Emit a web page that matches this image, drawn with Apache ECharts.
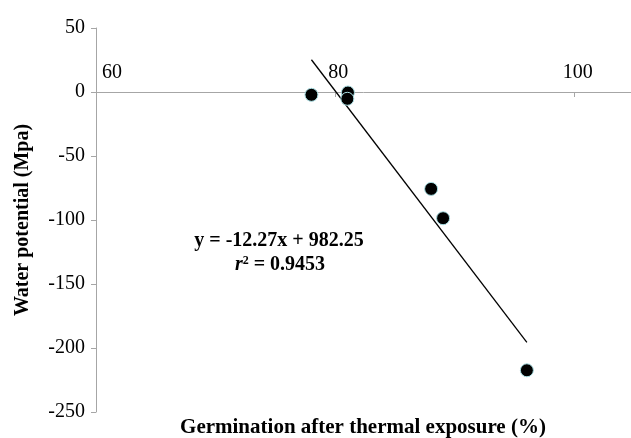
<!DOCTYPE html>
<html>
<head>
<meta charset="utf-8">
<script src="https://cdn.jsdelivr.net/npm/echarts/dist/echarts.min.js"></script>
<style>
html,body{margin:0;padding:0;background:#fff;}
#chart{width:631px;height:438px;}
</style>
</head>
<body>
<div id="chart"></div>
<script>
// Data
var germination = [78.0, 81.05, 81.0, 88.0, 89.0, 96.0];
var waterPotential = [-2.2, -0.4, -5.3, -75.7, -98.6, -217.4];
var trendSlope = -12.27;
var trendIntercept = 982.25;
var equationText = 'y = -12.27x + 982.25';
var r2Text = '0.9453';
var xTicks = [60, 80, 100];
var yTicks = [-250, -200, -150, -100, -50, 0, 50];
var xTitle = 'Germination after thermal exposure (%)';
var yTitle = 'Water potential (Mpa)';

var points = germination.map(function (x, i) { return [x, waterPotential[i]]; });
var xMinData = Math.min.apply(null, germination);
var xMaxData = Math.max.apply(null, germination);
var trend = [xMinData, xMaxData].map(function (x) { return [x, trendSlope * x + trendIntercept]; });

var FONT = 'Liberation Serif';
var axisGray = '#a6a6a6';
var gridTop = 28, gridBottom = 26, H = 438;
var yMin = yTicks[0], yMax = yTicks[yTicks.length - 1];
// shift the top x-axis down onto y = 0
var zeroOffset = -((H - gridTop - gridBottom) * (yMax - 0) / (yMax - yMin));

var chart = echarts.init(document.getElementById('chart'), null, {renderer: 'canvas'});
chart.setOption({
  animation: false,
  backgroundColor: '#ffffff',
  grid: {left: 96, right: 0, top: gridTop, bottom: gridBottom, containLabel: false},
  xAxis: {
    type: 'value',
    position: 'top',
    offset: zeroOffset,
    min: xTicks[0],
    max: 104.7,
    interval: 20,
    axisLine: {show: true, onZero: false, lineStyle: {color: axisGray, width: 1}},
    axisTick: {show: true, inside: true, length: 5, lineStyle: {color: axisGray}},
    axisLabel: {
      show: true, margin: 9, fontFamily: FONT, fontSize: 20, color: '#000',
      showMaxLabel: false, alignMinLabel: 'left', padding: [0, 0, 0, 6],
      formatter: function (v) { return xTicks.indexOf(v) >= 0 ? String(v) : ''; }
    },
    splitLine: {show: false}
  },
  yAxis: {
    type: 'value',
    min: yMin,
    max: yMax,
    interval: 50,
    axisLine: {show: true, lineStyle: {color: axisGray, width: 1}},
    axisTick: {show: true, inside: false, length: 5, lineStyle: {color: axisGray}},
    axisLabel: {margin: 11, fontFamily: FONT, fontSize: 20, color: '#000'},
    splitLine: {show: false},
    name: yTitle,
    nameLocation: 'middle',
    nameGap: 63,
    nameRotate: 90,
    nameTextStyle: {fontFamily: FONT, fontSize: 20, fontWeight: 'bold', color: '#000'}
  },
  series: [
    {
      type: 'line',
      data: trend,
      showSymbol: false,
      symbol: 'none',
      lineStyle: {color: '#000', width: 1.3},
      z: 2
    },
    {
      type: 'scatter',
      data: points,
      symbol: 'circle',
      symbolSize: 13,
      itemStyle: {color: '#000', opacity: 1, borderColor: '#a9dfe4', borderWidth: 1},
      z: 3
    }
  ],
  graphic: [
    {
      type: 'text', x: 363, y: 428,
      style: {text: xTitle, fontFamily: FONT, fontSize: 21, fontWeight: 'bold', fill: '#000',
        textAlign: 'center', textVerticalAlign: 'middle'}
    },
    {
      type: 'text', x: 279, y: 241,
      style: {text: equationText, fontFamily: FONT, fontSize: 20, fontWeight: 'bold', fill: '#000',
        textAlign: 'center', textVerticalAlign: 'middle'}
    },
    {
      type: 'text', x: 280, y: 265,
      style: {
        text: '{i|r}{s|2}{n| = ' + r2Text + '}',
        textAlign: 'center', textVerticalAlign: 'middle',
        rich: {
          i: {fontFamily: FONT, fontSize: 20, fontWeight: 'bold', fontStyle: 'italic', fill: '#000'},
          s: {fontFamily: FONT, fontSize: 12, fontWeight: 'bold', fill: '#000', verticalAlign: 'top', padding: [0, 0, 7, 0]},
          n: {fontFamily: FONT, fontSize: 20, fontWeight: 'bold', fill: '#000'}
        }
      }
    }
  ]
});
</script>
</body>
</html>
